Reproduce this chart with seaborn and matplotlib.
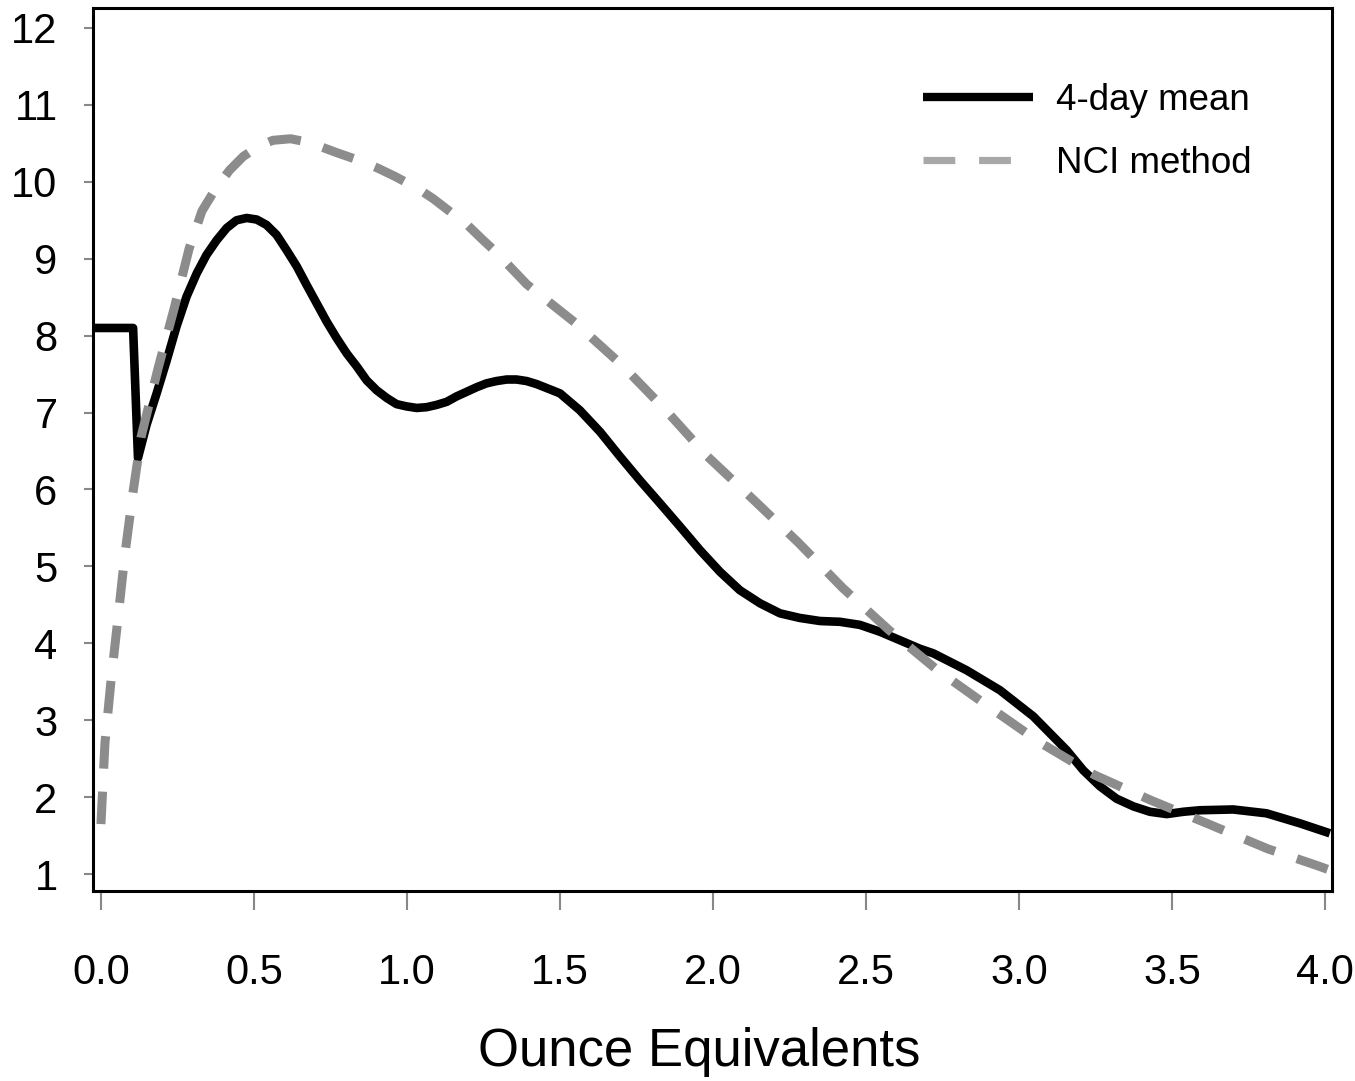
import matplotlib
matplotlib.use("Agg")
import matplotlib.pyplot as plt
import seaborn as sns
import pandas as pd
from matplotlib.lines import Line2D

# ---- data ----
mean_x = [-0.020, 0.105, 0.121, 0.149, 0.182, 0.215, 0.247, 0.280, 0.313, 0.345,
          0.378, 0.411, 0.443, 0.476, 0.509, 0.541, 0.574, 0.607, 0.640, 0.672,
          0.705, 0.738, 0.770, 0.803, 0.836, 0.868, 0.901, 0.934, 0.966, 0.999,
          1.032, 1.064, 1.097, 1.130, 1.162, 1.195, 1.228, 1.260, 1.293, 1.326,
          1.358, 1.391, 1.424, 1.500, 1.565, 1.631, 1.696, 1.761, 1.827, 1.892,
          1.958, 2.023, 2.088, 2.154, 2.219, 2.284, 2.350, 2.415, 2.480, 2.546,
          2.611, 2.676, 2.720, 2.829, 2.938, 3.047, 3.156, 3.210, 3.265, 3.319,
          3.374, 3.428, 3.483, 3.537, 3.592, 3.700, 3.809, 3.918, 4.016]
mean_y = [8.10, 8.10, 6.41, 6.84, 7.25, 7.68, 8.12, 8.51, 8.81, 9.05,
          9.24, 9.40, 9.50, 9.53, 9.51, 9.44, 9.31, 9.11, 8.90, 8.66,
          8.42, 8.18, 7.97, 7.77, 7.60, 7.42, 7.29, 7.19, 7.11, 7.08,
          7.06, 7.07, 7.10, 7.14, 7.21, 7.27, 7.33, 7.38, 7.41, 7.43,
          7.43, 7.41, 7.37, 7.25, 7.03, 6.75, 6.43, 6.12, 5.82, 5.52,
          5.21, 4.93, 4.69, 4.52, 4.39, 4.33, 4.29, 4.28, 4.24, 4.15,
          4.04, 3.93, 3.87, 3.65, 3.39, 3.05, 2.61, 2.35, 2.14, 1.98,
          1.88, 1.81, 1.78, 1.81, 1.83, 1.84, 1.79, 1.66, 1.53]

nci_x = [0.000, 0.013, 0.033, 0.056, 0.078, 0.105, 0.131, 0.160, 0.187, 0.239,
         0.288, 0.330, 0.373, 0.420, 0.465, 0.514, 0.562, 0.620, 0.670, 0.716,
         0.770, 0.857, 0.909, 0.961, 1.037, 1.086, 1.135, 1.200, 1.244, 1.290,
         1.391, 1.549, 1.702, 1.846, 1.982, 2.129, 2.279, 2.424, 2.576, 2.734,
         2.900, 3.069, 3.246, 3.431, 3.620, 3.812, 3.975, 4.010]
nci_y = [1.65, 2.70, 3.52, 4.34, 5.15, 5.97, 6.68, 7.15, 7.58, 8.35,
         9.13, 9.62, 9.90, 10.15, 10.33, 10.46, 10.54, 10.56, 10.52, 10.46,
         10.38, 10.26, 10.17, 10.07, 9.91, 9.78, 9.63, 9.43, 9.26, 9.09,
         8.67, 8.17, 7.62, 7.03, 6.43, 5.88, 5.31, 4.72, 4.17, 3.65,
         3.18, 2.71, 2.29, 1.96, 1.65, 1.33, 1.11, 1.06]

series_labels = ["4-day mean", "NCI method"]
x_ticks = [0.0, 0.5, 1.0, 1.5, 2.0, 2.5, 3.0, 3.5, 4.0]
x_tick_labels = ["0.0", "0.5", "1.0", "1.5", "2.0", "2.5", "3.0", "3.5", "4.0"]
y_ticks = [1, 2, 3, 4, 5, 6, 7, 8, 9, 10, 11, 12]
x_label = "Ounce Equivalents"

df_mean = pd.DataFrame({"x": mean_x, "y": mean_y})
df_nci = pd.DataFrame({"x": nci_x, "y": nci_y})

sns.set_style("white")
plt.rcParams['font.family'] = ['Liberation Sans', 'DejaVu Sans']
plt.rcParams['text.color'] = 'black'

W, H = 1355, 1081
fig = plt.figure(figsize=(W / 100, H / 100), dpi=100)
ax = fig.add_axes([93 / W, 190 / H, (1332 - 93) / W, (891 - 8) / H])

sns.lineplot(data=df_mean, x="x", y="y", ax=ax, color="black", linewidth=6.2,
             sort=False, estimator=None, solid_joinstyle="round",
             solid_capstyle="butt", legend=False)
sns.lineplot(data=df_nci, x="x", y="y", ax=ax, color="#8c8c8c", linewidth=6.5,
             sort=False, estimator=None, linestyle=(0, (3.6, 2.55)),
             dash_capstyle="butt", dash_joinstyle="round", legend=False)

ax.set_xlim(-0.026, 4.023)
ax.set_ylim(0.78, 12.26)
ax.set_xticks(x_ticks)
ax.set_xticklabels(x_tick_labels)
ax.set_yticks(y_ticks)
ax.set_yticklabels([str(v) for v in y_ticks])

ax.tick_params(axis="y", which="major", left=True, direction="out", length=6.5,
               width=1.5, color="#888888", pad=19, labelsize=30, labelcolor="black")
ax.tick_params(axis="x", which="major", bottom=True, direction="out", length=14,
               width=1.5, color="#888888", pad=31, labelsize=30, labelcolor="black")

for sp in ax.spines.values():
    sp.set_visible(True)
    sp.set_color("black")
    sp.set_linewidth(2.2)

ax.set_xlabel(x_label, fontsize=38, labelpad=24, color="black")
ax.xaxis.label.set_x((699 - 93) / (1332 - 93))
ax.set_ylabel("")

handles = [
    Line2D([0], [0], color="black", linewidth=6.0, solid_capstyle="butt"),
    Line2D([0], [0], color="#a8a8a8", linewidth=5.2, linestyle=(0, (4.4, 3.3)),
           dash_capstyle="butt"),
]
ax.legend(handles, series_labels, loc="upper left",
          bbox_to_anchor=(923 / W, 1 - 83 / H), bbox_transform=fig.transFigure,
          frameon=False, fontsize=26.5, handlelength=3.0, handletextpad=0.6,
          labelspacing=0.77, borderpad=0, borderaxespad=0, labelcolor="black")

fig.savefig("out.png", dpi=100)
